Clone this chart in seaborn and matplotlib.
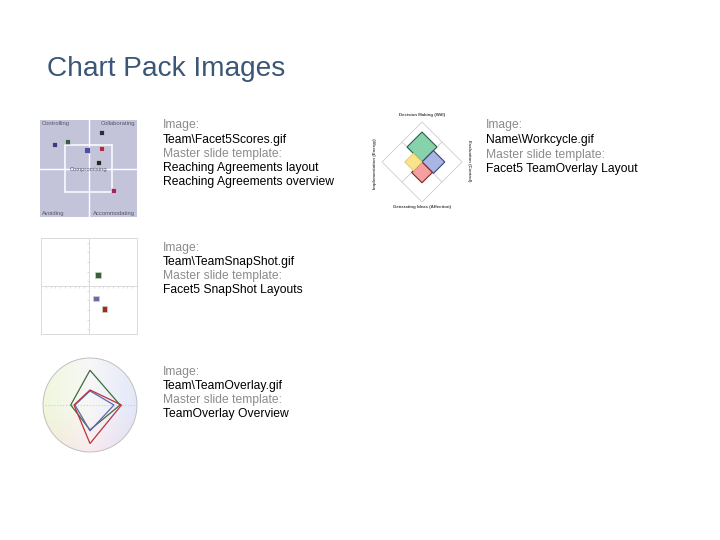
# =========================
# IMPORTS
# =========================
import numpy as np
import pandas as pd
import matplotlib
matplotlib.use("Agg")
import matplotlib.pyplot as plt
from matplotlib.patches import Rectangle, Circle
import seaborn as sns


# =========================
# DATA
# =========================
TITLE = "Chart Pack Images"

# thumbnail 1 : Facet5 scores (style grid)
score_styles = ["Controlling", "Collaborating", "Compromising", "Avoiding", "Accommodating"]
score_names  = ["p1", "p2", "p3", "p4", "p5", "p6", "p7"]
score_x      = [-0.70, -0.43, 0.27, -0.03, 0.27, 0.21, 0.52]
score_y      = [0.49, 0.56, 0.75, 0.38, 0.42, 0.12, -0.45]
score_colors = ["#3A3A7E", "#3D5C3D", "#2A2A44", "#4E4EA6", "#B02C3A", "#1E2C28", "#A3245A"]
score_inner  = 0.49

# thumbnail 2 : team snapshot
snap_names  = ["green", "blue", "red"]
snap_x      = [0.19, 0.15, 0.32]
snap_y      = [0.23, -0.26, -0.48]
snap_colors = ["#3C5E3C", "#6A6AAA", "#A22828"]

# thumbnail 3 : team overlay (up, right, down, left)
overlay_dirs   = [90, 0, 270, 180]
overlay_green  = [0.74, 0.64, 0.53, 0.41]
overlay_red    = [0.32, 0.67, 0.82, 0.34]
overlay_blue   = [0.30, 0.51, 0.55, 0.32]
overlay_colors = ["#3F6B3F", "#5A6AB0", "#C0303A"]

# thumbnail 4 : work cycle (Will, Control, Affection, Energy)
cycle_labels = ["Decision Making (Will)", "Evaluation (Control)",
                "Generating Ideas (Affection)", "Implementation (Energy)"]
cycle_dirs   = [90, 0, 270, 180]
cycle_sizes  = [0.75, 0.57, 0.52, 0.43]
cycle_fill   = ["#86D3AB", "#A9B5E2", "#F4A0A0", "#F9E48C"]
cycle_edge   = ["#2F5E48", "#39467A", "#7A2A2A", "#E8D070"]

# captions
captions = [
    (163, [125, 139.5, 154, 168, 182],
     ["Image:", "Team\\Facet5Scores.gif", "Master slide template:",
      "Reaching Agreements layout", "Reaching Agreements overview"],
     ["grey", "black", "grey", "black", "black"]),
    (163, [248, 262, 276, 290],
     ["Image:", "Team\\TeamSnapShot.gif", "Master slide template:",
      "Facet5 SnapShot Layouts"],
     ["grey", "black", "grey", "black"]),
    (163, [372, 386, 400, 414],
     ["Image:", "Team\\TeamOverlay.gif", "Master slide template:",
      "TeamOverlay Overview"],
     ["grey", "black", "grey", "black"]),
    (486, [125, 140, 155, 169],
     ["Image:", "Name\\Workcycle.gif", "Master slide template:",
      "Facet5 TeamOverlay Layout"],
     ["grey", "black", "grey", "black"]),
]


# =========================
# STYLE
# =========================
sns.set_theme(style="white")
plt.rcParams["font.family"] = ["Liberation Sans", "DejaVu Sans"]

W, H = 720, 540
fig = plt.figure(figsize=(7.2, 5.4), dpi=100)
fig.patch.set_facecolor("white")


def px_axes(x0, y0, x1, y1):
    # axes from pixel box (top-left origin)
    ax = fig.add_axes([x0 / W, 1 - y1 / H, (x1 - x0) / W, (y1 - y0) / H])
    return ax


def unit(deg):
    r = np.deg2rad(deg)
    return np.cos(r), np.sin(r)


# =========================
# TITLE + CAPTIONS
# =========================
fig.text(47 / W, 1 - 69 / H, TITLE, fontsize=20.2, color="#3B5676",
         ha="left", va="center")

for x, ys, lines, cols in captions:
    for y, line, c in zip(ys, lines, cols):
        fig.text(x / W, 1 - y / H, line, fontsize=8.7,
                 color="#8C8C8C" if c == "grey" else "black",
                 ha="left", va="center")


# =========================
# THUMB 1 : FACET5 SCORES
# =========================
ax1 = px_axes(40, 120, 137, 217)
ax1.set_facecolor("#C3C4DA")
ax1.axhline(0, color="white", lw=1)
ax1.axvline(0, color="white", lw=1)
ax1.add_patch(Rectangle((-score_inner, -score_inner), 2 * score_inner, 2 * score_inner,
                        fill=False, ec="white", lw=1.1, zorder=2))
df1 = pd.DataFrame({"x": score_x, "y": score_y, "who": score_names})
sns.scatterplot(data=df1, x="x", y="y", hue="who", palette=score_colors,
                marker="s", s=14, edgecolor="#E8E8F0", linewidth=0.4,
                legend=False, ax=ax1, zorder=3)
lab_kw = dict(fontsize=4.2, color="#555566")
ax1.text(-0.96, 0.92, score_styles[0], ha="left", va="center", **lab_kw)
ax1.text(0.96, 0.92, score_styles[1], ha="right", va="center", **lab_kw)
ax1.text(0.0, -0.02, score_styles[2], ha="center", va="center", **lab_kw)
ax1.text(-0.96, -0.92, score_styles[3], ha="left", va="center", **lab_kw)
ax1.text(0.96, -0.92, score_styles[4], ha="right", va="center", **lab_kw)
ax1.set_xlim(-1, 1)
ax1.set_ylim(-1, 1)
ax1.set_xticks([])
ax1.set_yticks([])
ax1.set_xlabel("")
ax1.set_ylabel("")
for s in ax1.spines.values():
    s.set_visible(False)


# =========================
# THUMB 2 : SNAPSHOT
# =========================
ax2 = px_axes(41, 238, 137, 334)
df2 = pd.DataFrame({"x": snap_x, "y": snap_y, "who": snap_names})
sns.scatterplot(data=df2, x="x", y="y", hue="who", palette=snap_colors,
                marker="s", s=16, edgecolor="#C8D8C0", linewidth=0.5,
                legend=False, ax=ax2, zorder=3)
ax2.set_xlim(-1, 1)
ax2.set_ylim(-1, 1)
for side in ["top", "right"]:
    ax2.spines[side].set_visible(False)
ax2.spines["left"].set_position("zero")
ax2.spines["bottom"].set_position("zero")
for side in ["left", "bottom"]:
    ax2.spines[side].set_color("#DADADA")
    ax2.spines[side].set_linewidth(0.7)
ax2.add_patch(Rectangle((0, 0), 1, 1, transform=ax2.transAxes, fill=False,
                        ec="#DADADA", lw=0.7, clip_on=False))
ax2.set_xticks(np.arange(-0.9, 0.95, 0.1))
ax2.set_yticks(np.arange(-0.9, 0.95, 0.2))
ax2.tick_params(length=1.5, width=0.5, color="#D0D0D0", labelbottom=False,
                labelleft=False, direction="out", left=True, bottom=True)
ax2.set_xlabel("")
ax2.set_ylabel("")


# =========================
# THUMB 3 : TEAM OVERLAY
# =========================
ax3 = px_axes(40, 355, 140, 455)
ax3.set_xlim(-1.064, 1.064)
ax3.set_ylim(-1.064, 1.064)
ax3.set_aspect("equal")
ax3.axis("off")

gx, gy = np.meshgrid(np.linspace(-1, 1, 120), np.linspace(-1, 1, 120))
left_c  = np.array([0.94, 0.97, 0.86])
right_c = np.array([0.89, 0.91, 0.98])
low_c   = np.array([0.98, 0.89, 0.91])
base_c  = np.array([0.97, 0.97, 0.97])
wl = np.clip(-gx, 0, 1)[..., None]
wr = np.clip(gx, 0, 1)[..., None]
wb = np.clip(-gy, 0, 1)[..., None]
img = base_c + wl * (left_c - base_c) + wr * (right_c - base_c) + 0.6 * wb * (low_c - base_c)
img = np.clip(img, 0, 1)
im = ax3.imshow(img, extent=(-1, 1, -1, 1), origin="lower", zorder=0)
circ = Circle((0, 0), 1, transform=ax3.transData)
im.set_clip_path(circ)
ax3.add_patch(Circle((0, 0), 1, fill=False, ec="#C0C0C0", lw=0.7))
ax3.plot([-0.95, 0.95], [0, 0], ls=":", color="#D8CFA0", lw=0.8, zorder=1)

for vals, col in zip([overlay_green, overlay_blue, overlay_red], overlay_colors):
    px = [v * unit(d)[0] for v, d in zip(vals, overlay_dirs)]
    py = [v * unit(d)[1] for v, d in zip(vals, overlay_dirs)]
    ax3.fill(px, py, fill=False, ec=col, lw=0.9, zorder=3)


# =========================
# THUMB 4 : WORK CYCLE
# =========================
ax4 = px_axes(370, 108, 475, 214)
ax4.set_xlim(-1.3, 1.325)
ax4.set_ylim(-1.3, 1.35)
ax4.axis("off")

ox = [unit(d)[0] for d in cycle_dirs]
oy = [unit(d)[1] for d in cycle_dirs]
ax4.fill(ox, oy, fill=False, ec="#CCCCCC", lw=0.6)
ax4.plot([-0.5, 0.5], [0.5, -0.5], color="#CCCCCC", lw=0.6)
ax4.plot([0.5, -0.5], [0.5, -0.5], color="#CCCCCC", lw=0.6)

for s, d, fc, ec in zip(cycle_sizes, cycle_dirs, cycle_fill, cycle_edge):
    a = s / np.sqrt(2)
    vx = [0, a * unit(d - 45)[0], s * unit(d)[0], a * unit(d + 45)[0]]
    vy = [0, a * unit(d - 45)[1], s * unit(d)[1], a * unit(d + 45)[1]]
    ax4.fill(vx, vy, fc=fc, ec=ec, lw=0.8, zorder=3)

cyc_kw = dict(fontsize=3.2, color="#444444", fontweight="bold", ha="center", va="center")
ax4.text(0, 1.18, cycle_labels[0], **cyc_kw)
ax4.text(1.18, 0.02, cycle_labels[1], rotation=-90, **cyc_kw)
ax4.text(0, -1.13, cycle_labels[2], **cyc_kw)
ax4.text(-1.18, -0.05, cycle_labels[3], rotation=90, **cyc_kw)


# =========================
# SAVE
# =========================
fig.savefig("out.png", dpi=100)
